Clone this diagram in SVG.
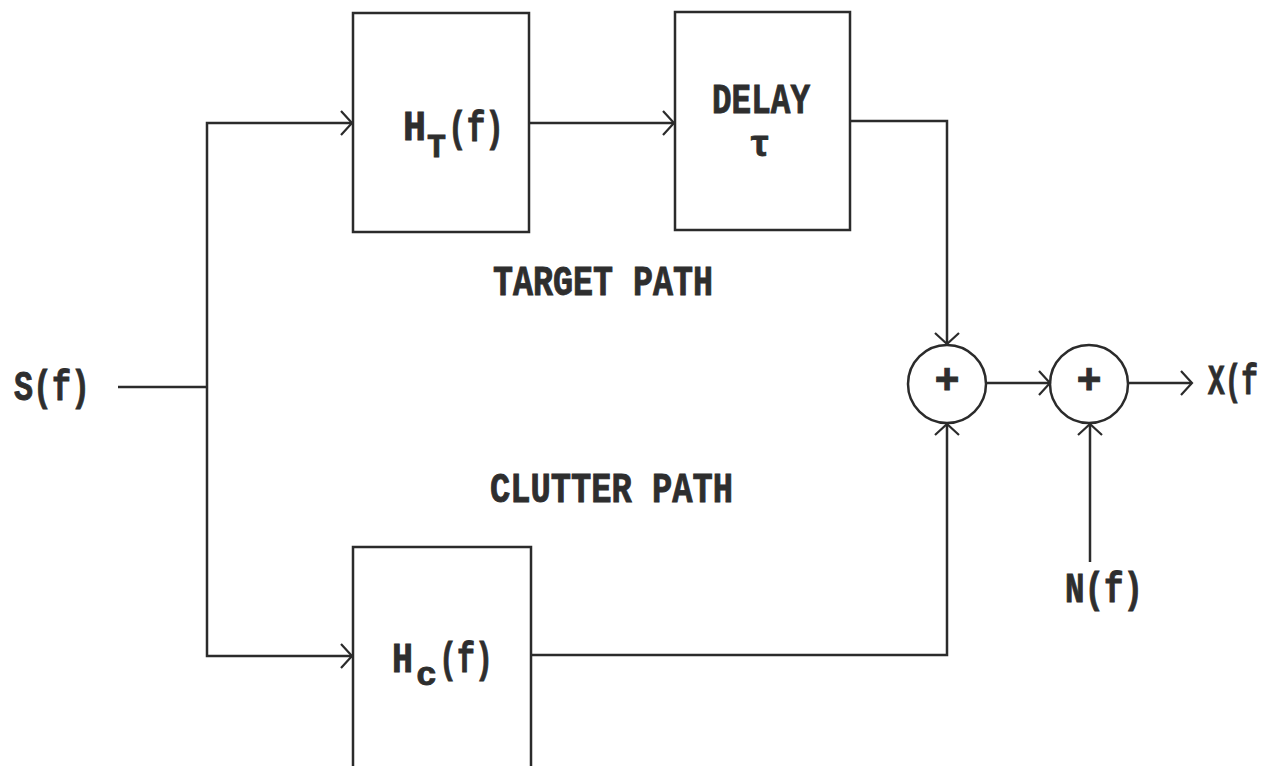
<svg xmlns="http://www.w3.org/2000/svg" width="1273" height="766" viewBox="0 0 1273 766">
<style>
.box{fill:none;stroke:#2b2b2b;stroke-width:2.5}
.ln{fill:none;stroke:#2b2b2b;stroke-width:2.5}
.arr{marker-end:url(#ah)}
.t{font-family:"Liberation Mono","DejaVu Sans Mono",monospace;font-weight:bold;fill:#2e2e2e;stroke:#2e2e2e;stroke-width:0.9;font-size:42px}
.s{font-size:34px}
.sum{fill:none;stroke:#2b2b2b;stroke-width:2.5}
</style>
<defs>
<marker id="ah" markerUnits="userSpaceOnUse" markerWidth="20" markerHeight="30" refX="12" refY="14" orient="auto" viewBox="0 0 20 30">
<path d="M1,2 L12,14 L1,26" fill="none" stroke="#2b2b2b" stroke-width="2.2"/>
</marker>
</defs>
<rect width="1273" height="766" fill="#ffffff"/>
<g id="connectors">
<path class="ln" d="M118,387 H207"/>
<path class="ln arr" d="M207,387 V123 H352"/>
<path class="ln arr" d="M207,387 V656 H352"/>
<path class="ln arr" d="M530,123 H674"/>
<path class="ln arr" d="M851,121 H947 V344"/>
<path class="ln arr" d="M531,655 H947 V424"/>
<path class="ln arr" d="M987,383 H1050"/>
<path class="ln arr" d="M1128,383 H1192"/>
<path class="ln arr" d="M1090,562 V424"/>
</g>
<g id="node-HT">
<rect class="box" x="353" y="13" width="176" height="219"/>
<text class="t" x="403" y="140" textLength="23" lengthAdjust="spacingAndGlyphs">H</text>
<text class="t s" x="427" y="157" textLength="19" lengthAdjust="spacingAndGlyphs">T</text>
<text class="t" x="448" y="141" textLength="56" lengthAdjust="spacingAndGlyphs">(f)</text>
</g>
<g id="node-delay">
<rect class="box" x="675" y="12" width="175" height="218"/>
<text class="t"><tspan x="712" y="113" textLength="98" lengthAdjust="spacingAndGlyphs">DELAY</tspan><tspan x="749" y="156" font-size="36">τ</tspan></text>
</g>
<g id="node-HC">
<rect class="box" x="353" y="547" width="178" height="240"/>
<text class="t" x="392" y="672" textLength="21" lengthAdjust="spacingAndGlyphs">H</text>
<text class="t s" x="416" y="685" textLength="21" lengthAdjust="spacingAndGlyphs">c</text>
<text class="t" x="439" y="672" textLength="54" lengthAdjust="spacingAndGlyphs">(f)</text>
</g>
<g id="node-sum1">
<circle class="sum" cx="947" cy="384" r="39"/>
<text class="t" x="947" y="393" text-anchor="middle" font-size="26">+</text>
</g>
<g id="node-sum2">
<circle class="sum" cx="1089" cy="384" r="39"/>
<text class="t" x="1089" y="393" text-anchor="middle" font-size="26">+</text>
</g>
<g id="node-S">
<text class="t" x="14" y="400" textLength="76" lengthAdjust="spacingAndGlyphs">S(f)</text>
</g>
<g id="node-X">
<text class="t" x="1208" y="394" textLength="50" lengthAdjust="spacingAndGlyphs">X(f</text>
</g>
<g id="node-N">
<text class="t" x="1065" y="602" textLength="78" lengthAdjust="spacingAndGlyphs">N(f)</text>
</g>
<g id="labels">
<text class="t" x="493" y="295" textLength="220" lengthAdjust="spacingAndGlyphs">TARGET PATH</text>
<text class="t" x="490" y="502" textLength="243" lengthAdjust="spacingAndGlyphs">CLUTTER PATH</text>
</g>
</svg>
